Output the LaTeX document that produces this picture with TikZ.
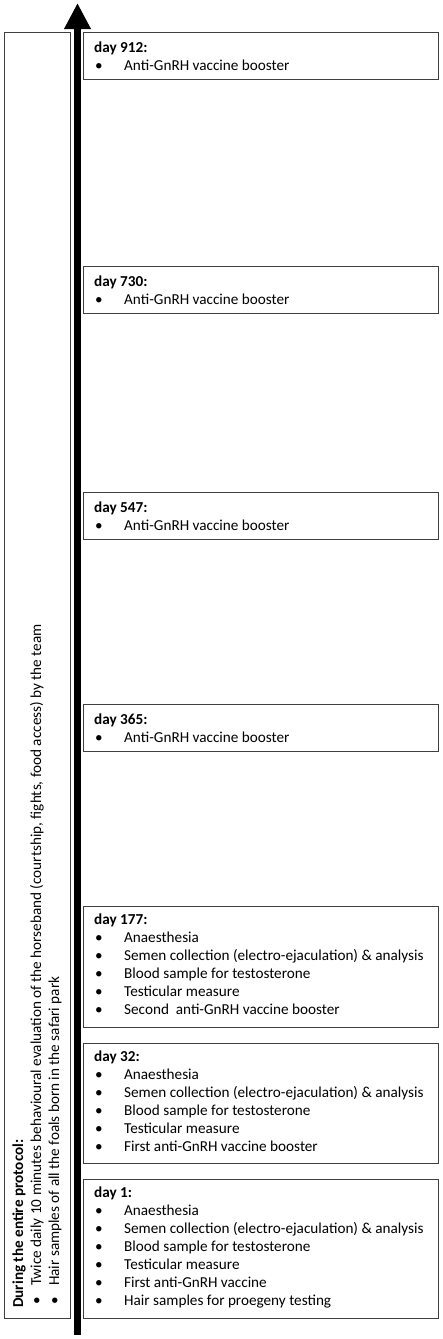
\documentclass[tikz,border=0pt]{standalone}
\usepackage{fontspec}
\setmainfont{Carlito}
\usetikzlibrary{arrows.meta,calc}
\newcommand{\bl}[1]{\makebox[30pt][l]{\hspace{1pt}•}#1}
\newcommand{\lbl}[1]{\makebox[22pt][l]{\hspace{3pt}•}#1}
\begin{document}
\begin{tikzpicture}[x=1pt,y=-1pt,
  daybox/.style={draw=black!75, line width=1pt, inner sep=0pt, minimum width=355pt, anchor=north west},
  daytext/.style={anchor=north west, inner sep=0pt, align=left, font=\fontsize{15.2}{18}\selectfont},
  sidebox/.style={draw=black!75, line width=1.2pt, inner sep=0pt, minimum width=66pt, minimum height=1286pt, anchor=north west},
  timeline/.style={line width=7pt, -{Triangle[width=25pt,length=26pt]}}
]
\useasboundingbox (0,0) rectangle (442,1339);
% timeline arrow
\coordinate (abot) at (77.5,1335);
\coordinate (atop) at (77.5,3);
\draw[timeline] (abot) -- (atop);
% side box
\node[sidebox] (lbox) at (4,32) {};
\node[daytext, rotate=90] (ltext) at (10,1308) {\rule{0pt}{13pt}\textbf{During the entire protocol:}\\
\lbl{Twice daily 10 minutes behavioural evaluation of the horseband (courtship, fights, food access) by the team}\\
\lbl{Hair samples of all the foals born in the safari park}};
% day boxes
\node[daybox, minimum height=47pt] (b912) at (83,32) {};
\node[daytext] (t912) at ($(b912.north west)+(11,7)$) {\rule{0pt}{13pt}\textbf{day 912:}\\ \bl{Anti-GnRH vaccine booster}};
\node[daybox, minimum height=47pt] (b730) at (83,266) {};
\node[daytext] (t730) at ($(b730.north west)+(11,7)$) {\rule{0pt}{13pt}\textbf{day 730:}\\ \bl{Anti-GnRH vaccine booster}};
\node[daybox, minimum height=47pt] (b547) at (83,492) {};
\node[daytext] (t547) at ($(b547.north west)+(11,7)$) {\rule{0pt}{13pt}\textbf{day 547:}\\ \bl{Anti-GnRH vaccine booster}};
\node[daybox, minimum height=47pt] (b365) at (83,704) {};
\node[daytext] (t365) at ($(b365.north west)+(11,7)$) {\rule{0pt}{13pt}\textbf{day 365:}\\ \bl{Anti-GnRH vaccine booster}};
\node[daybox, minimum height=121pt] (b177) at (83,906) {};
\node[daytext] (t177) at ($(b177.north west)+(11,5)$) {\rule{0pt}{13pt}\textbf{day 177:}\\
\bl{Anaesthesia}\\
\bl{Semen collection (electro-ejaculation) \& analysis}\\
\bl{Blood sample for testosterone}\\
\bl{Testicular measure}\\
\bl{Second\ \ anti-GnRH vaccine booster}};
\node[daybox, minimum height=120pt] (b32) at (83,1043) {};
\node[daytext] (t32) at ($(b32.north west)+(11,5)$) {\rule{0pt}{13pt}\textbf{day 32:}\\
\bl{Anaesthesia}\\
\bl{Semen collection (electro-ejaculation) \& analysis}\\
\bl{Blood sample for testosterone}\\
\bl{Testicular measure}\\
\bl{First anti-GnRH vaccine booster}};
\node[daybox, minimum height=139pt] (b1) at (83,1179) {};
\node[daytext] (t1) at ($(b1.north west)+(11,5)$) {\rule{0pt}{13pt}\textbf{day 1:}\\
\bl{Anaesthesia}\\
\bl{Semen collection (electro-ejaculation) \& analysis}\\
\bl{Blood sample for testosterone}\\
\bl{Testicular measure}\\
\bl{First anti-GnRH vaccine}\\
\bl{Hair samples for proegeny testing}};
\end{tikzpicture}
\end{document}
